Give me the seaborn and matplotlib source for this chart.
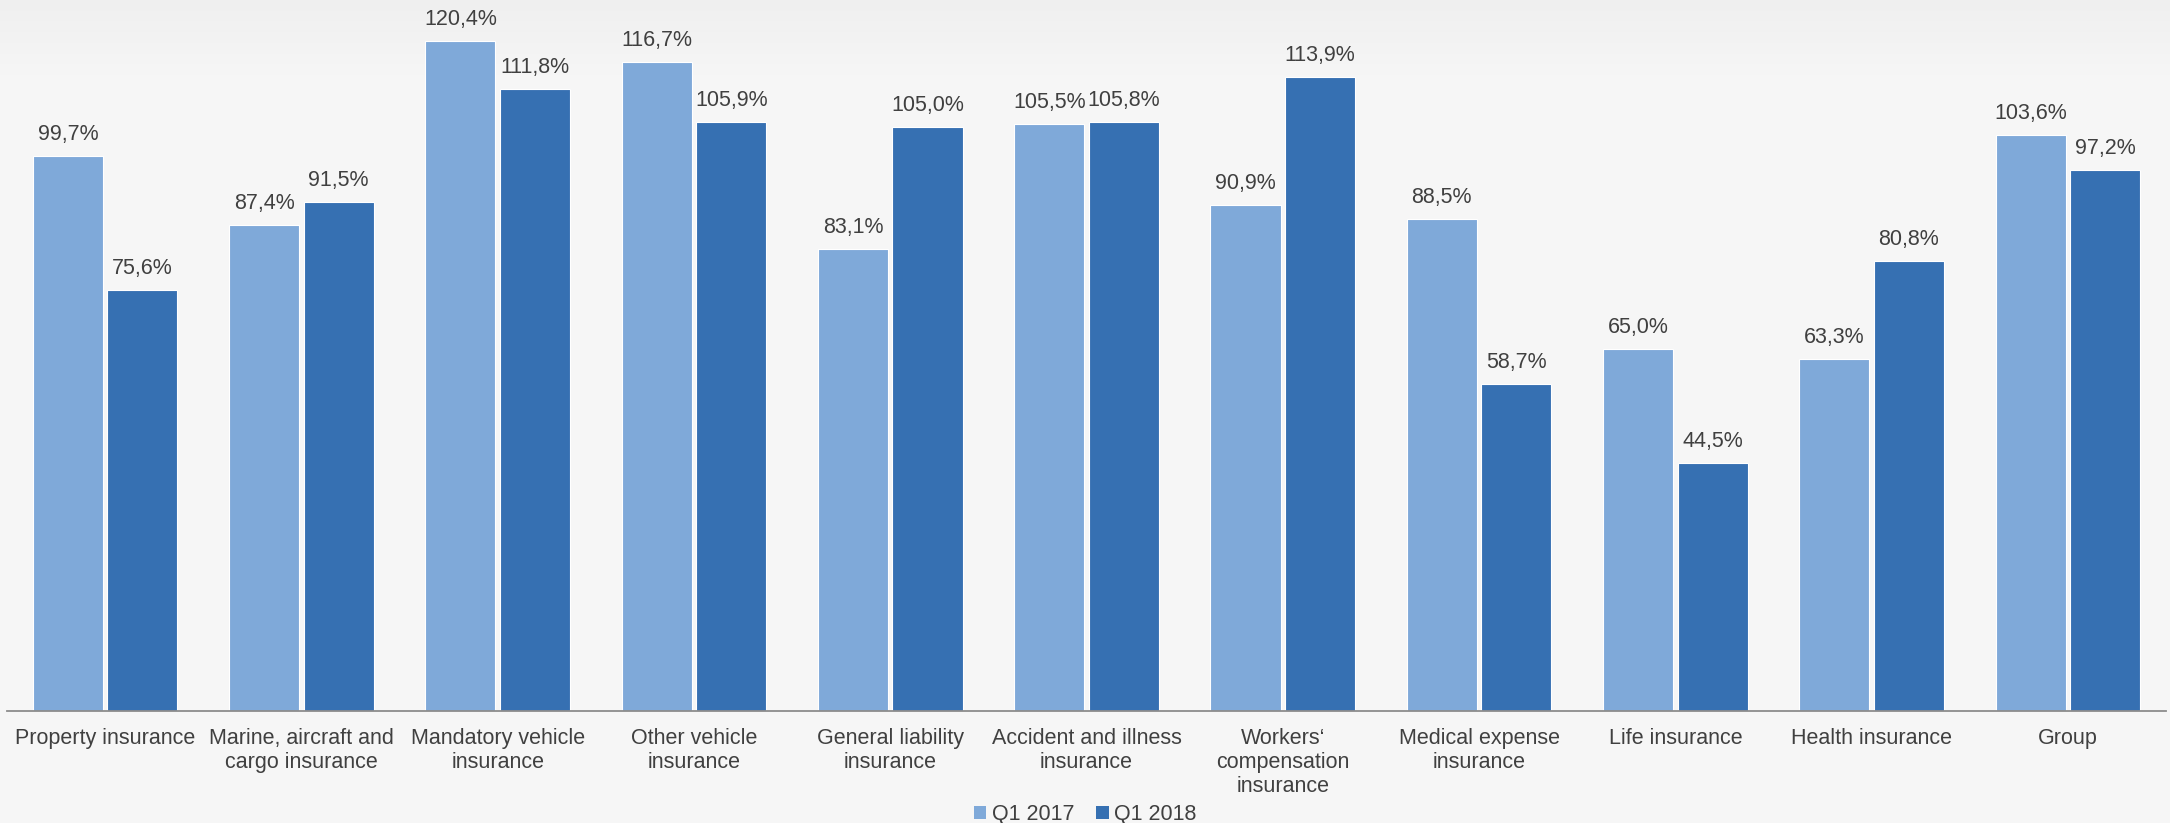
import numpy as np
import pandas as pd
import matplotlib
matplotlib.use("Agg")
import matplotlib.pyplot as plt
from matplotlib.colors import LinearSegmentedColormap
from matplotlib.patches import Patch
import seaborn as sns

categories = [
    "Property insurance",
    "Marine, aircraft and\ncargo insurance",
    "Mandatory vehicle\ninsurance",
    "Other vehicle\ninsurance",
    "General liability\ninsurance",
    "Accident and illness\ninsurance",
    "Workers‘\ncompensation\ninsurance",
    "Medical expense\ninsurance",
    "Life insurance",
    "Health insurance",
    "Group",
]
q1_2017 = [99.7, 87.4, 120.4, 116.7, 83.1, 105.5, 90.9, 88.5, 65.0, 63.3, 103.6]
q1_2018 = [75.6, 91.5, 111.8, 105.9, 105.0, 105.8, 113.9, 58.7, 44.5, 80.8, 97.2]
series_names = ["Q1 2017", "Q1 2018"]
series_colors = ["#7fa9d9", "#3670b2"]

df = pd.DataFrame({
    "category": categories * 2,
    "value": q1_2017 + q1_2018,
    "period": [series_names[0]] * len(categories) + [series_names[1]] * len(categories),
})

sns.set_theme(style="white")
plt.rcParams["font.family"] = ["Liberation Sans", "DejaVu Sans"]
text_color = "#404040"
axis_color = "#8c8c8c"
bg = "#f6f6f6"

fig = plt.figure(figsize=(21.7, 8.23), dpi=100)
fig.patch.set_facecolor(bg)

# soft gradient band along the top edge
bg_ax = fig.add_axes([0, 0, 1, 1], zorder=-10)
grad = np.linspace(0, 1, 256).reshape(-1, 1)
cmap = LinearSegmentedColormap.from_list("bgfade", ["#efefef", bg])
bg_ax.imshow(grad, aspect="auto", cmap=cmap, extent=[0, 1, 1 - 75 / 823, 1])
bg_ax.set_xlim(0, 1)
bg_ax.set_ylim(0, 1)
bg_ax.axis("off")

ax = fig.add_axes([7 / 2170, 112 / 823, 2159 / 2170, 711 / 823])
ax.patch.set_alpha(0)

sns.barplot(
    data=df, x="category", y="value", hue="period",
    order=categories, hue_order=series_names, palette=series_colors,
    saturation=1, width=0.76, gap=0.06, edgecolor="white", linewidth=0.8,
    errorbar=None, legend=False, ax=ax,
)

for container, vals in zip(ax.containers, [q1_2017, q1_2018]):
    ax.bar_label(
        container,
        labels=[f"{v:.1f}%".replace(".", ",") for v in vals],
        padding=8, fontsize=15.5, color=text_color,
    )

ax.set_xlim(-0.5, len(categories) - 0.5)
ax.set_ylim(0, 127.8)
ax.set_xlabel("")
ax.set_ylabel("")
ax.set_yticks([])
for side in ["left", "top", "right"]:
    ax.spines[side].set_visible(False)
ax.spines["bottom"].set_color(axis_color)
ax.spines["bottom"].set_linewidth(1.3)

ax.set_xticks(range(len(categories)))
ax.set_xticklabels(categories, fontsize=15.5, color=text_color, linespacing=1.2)
ax.set_xticks(np.arange(-0.5, len(categories), 1.0), minor=True)
ax.tick_params(axis="x", which="major", length=0, pad=12)
ax.tick_params(axis="x", which="minor", length=7, width=1.2, color=axis_color, direction="out")

handles = [Patch(facecolor=c, edgecolor="none") for c in series_colors]
fig.legend(
    handles, series_names, loc="lower center", bbox_to_anchor=(0.5, -0.026),
    ncol=2, frameon=False, fontsize=15.5, labelcolor=text_color,
    handlelength=0.6, handleheight=0.6, handletextpad=0.25, columnspacing=1.0,
)

fig.savefig("out.png", dpi=100, facecolor=fig.get_facecolor())
